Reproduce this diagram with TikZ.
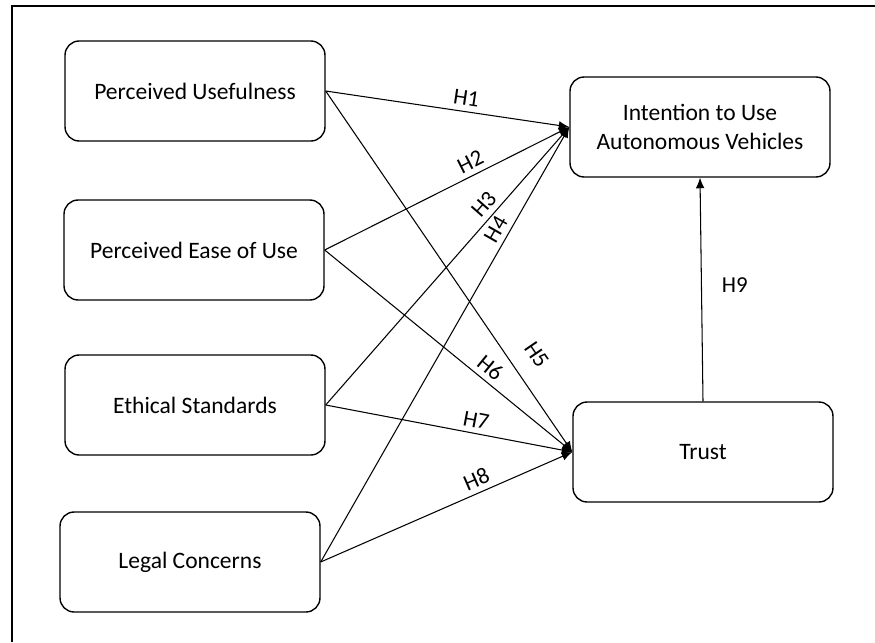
\documentclass[tikz,border=0pt]{standalone}
\usepackage{fontspec}
\setmainfont{Carlito}
\usetikzlibrary{arrows.meta}
\begin{document}
\begin{tikzpicture}[x=0.02cm, y=-0.02cm, >={Latex[length=6pt,width=5pt]}, line width=0.6pt, main node/.style={rectangle,rounded corners=8pt,draw,line width=0.8pt,minimum width=5.2cm,minimum height=2cm,inner sep=0pt,align=center}, hyp/.style={sloped,above,inner sep=3pt}]
\useasboundingbox (0,0) rectangle (875,642);
\draw [line width=1.3pt] (12,642) -- (12,6) -- (875,6);
\begin{scope}[every node/.style={font=\fontsize{13.4}{17}\selectfont}]
\node [main node](pu) at (195,91) {Perceived Usefulness};
\node [main node](peu) at (194,250) {Perceived Ease of Use};
\node [main node](es) at (195,405) {Ethical Standards};
\node [main node](lc) at (190,562) {Legal Concerns};
\node [main node](int) at (700,127) {Intention to Use\\Autonomous Vehicles};
\node [main node](tr) at (703,452) {Trust};
\end{scope}
\begin{scope}[every node/.style={font=\fontsize{13}{15}\selectfont}]
\draw (pu.east) edge [->] node[hyp,pos=0.57]{H1} (int.west);
\draw (peu.east) edge [->] node[hyp,pos=0.62]{H2} (int.west);
\draw (es.east) edge [->] node[hyp,pos=0.69]{H3} (int.west);
\draw (lc.east) edge [->] node[hyp,pos=0.75]{H4} (int.west);
\draw (pu.east) edge [->] node[hyp,above=7pt,pos=0.77]{H5} (tr.west);
\draw (peu.east) edge [->] node[hyp,pos=0.635]{H6} (tr.west);
\draw (es.east) edge [->] node[hyp,pos=0.6]{H7} (tr.west);
\draw (lc.east) edge [->] node[hyp,pos=0.64]{H8} (tr.west);
\draw (tr.north) edge [->] node[right=8pt,pos=0.52]{H9} (int.south);
\end{scope}
\end{tikzpicture}
\end{document}
